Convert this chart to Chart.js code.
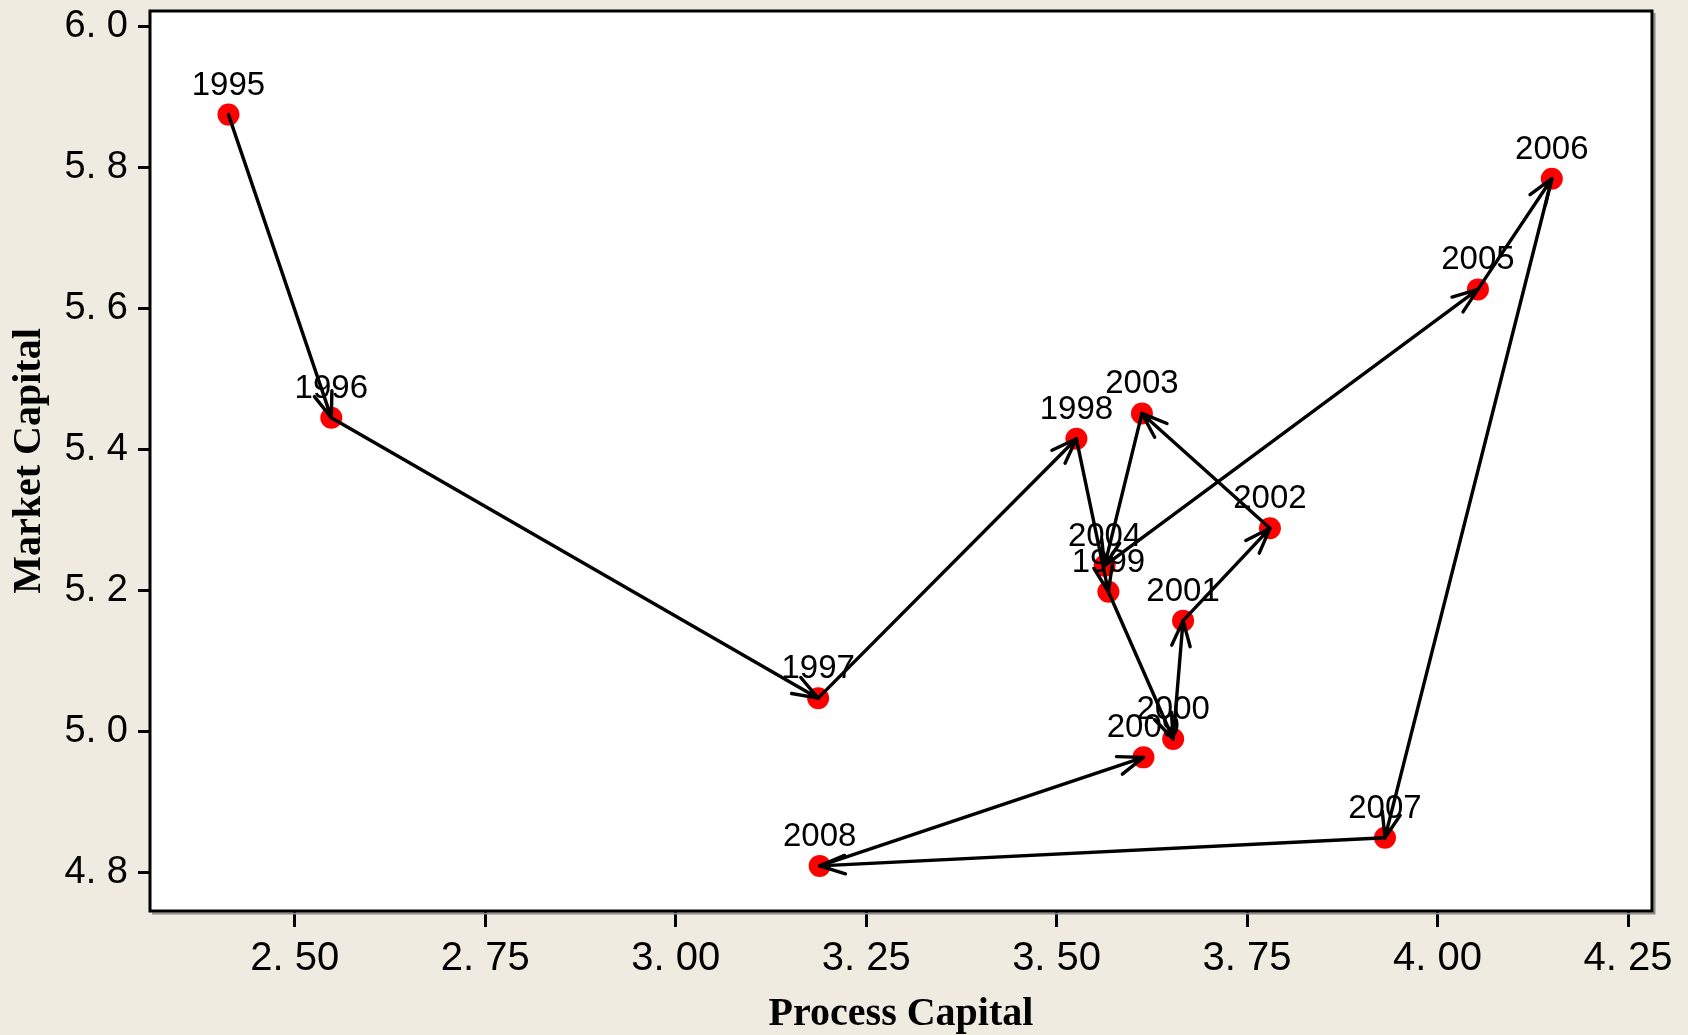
<!DOCTYPE html>
<html>
<head>
<meta charset="utf-8">
<script src="https://cdn.jsdelivr.net/npm/chart.js@4/dist/chart.umd.min.js"></script>
<style>
  html, body { margin: 0; padding: 0; background: #EFEBE1; }
  #wrap { width: 1688px; height: 1035px; }
</style>
</head>
<body>
<div id="wrap"><canvas id="c" width="1688" height="1035"></canvas></div>
<script>
// Yearly path of process capital vs. market capital
const years = ['1995', '1996', '1997', '1998', '1999', '2000', '2001', '2002',
               '2003', '2004', '2005', '2006', '2007', '2008', '2009'];
const processCapital = [2.413, 2.548, 3.187, 3.526, 3.568, 3.653, 3.666, 3.780,
                        3.612, 3.563, 4.053, 4.150, 3.931, 3.189, 3.614];
const marketCapital  = [5.875, 5.445, 5.047, 5.415, 5.198, 4.989, 5.157, 5.288,
                        5.451, 5.235, 5.627, 5.784, 4.849, 4.809, 4.963];
const xTicks = [2.50, 2.75, 3.00, 3.25, 3.50, 3.75, 4.00, 4.25];
const yTicks = [4.8, 5.0, 5.2, 5.4, 5.6, 5.8, 6.0];

const SANS = '"Liberation Sans", Arial, sans-serif';
const SERIF = '"Liberation Serif", "Times New Roman", serif';

// "2. 50" style tick text
function fmt(v, digits) {
  return v.toFixed(digits).replace('.', '. ');
}

// keep the plot frame where the layout padding puts it
function noLabelOverflow(s) {
  s.paddingTop = 0;
  s.paddingBottom = 0;
  s.paddingLeft = 0;
  s.paddingRight = 0;
}

const pathPlugin = {
  id: 'pathPlugin',
  beforeDraw(chart) {
    const { ctx, chartArea: a } = chart;
    ctx.save();
    ctx.fillStyle = '#EFEBE1';
    ctx.fillRect(0, 0, chart.width, chart.height);
    ctx.fillStyle = '#FFFFFF';
    ctx.fillRect(a.left, a.top, a.right - a.left, a.bottom - a.top);
    ctx.restore();
  },
  afterDatasetsDraw(chart) {
    const { ctx } = chart;
    const xs = chart.scales.x, ys = chart.scales.y;
    const px = processCapital.map(v => xs.getPixelForValue(v));
    const py = marketCapital.map(v => ys.getPixelForValue(v));
    ctx.save();
    // year labels
    ctx.fillStyle = '#000';
    ctx.font = '33px ' + SANS;
    ctx.textAlign = 'center';
    ctx.textBaseline = 'alphabetic';
    years.forEach((yr, i) => ctx.fillText(yr, px[i], py[i] - 20));
    // arrows between consecutive years
    ctx.strokeStyle = '#000';
    ctx.lineWidth = 3.4;
    ctx.lineCap = 'round';
    ctx.lineJoin = 'round';
    const head = 27, spread = 20 * Math.PI / 180;
    for (let i = 0; i < years.length - 1; i++) {
      const x0 = px[i], y0 = py[i], x1 = px[i + 1], y1 = py[i + 1];
      ctx.beginPath();
      ctx.moveTo(x0, y0);
      ctx.lineTo(x1, y1);
      ctx.stroke();
      const ang = Math.atan2(y1 - y0, x1 - x0);
      ctx.beginPath();
      ctx.moveTo(x1 - head * Math.cos(ang - spread), y1 - head * Math.sin(ang - spread));
      ctx.lineTo(x1, y1);
      ctx.lineTo(x1 - head * Math.cos(ang + spread), y1 - head * Math.sin(ang + spread));
      ctx.stroke();
    }
    ctx.restore();
  },
  afterDraw(chart) {
    const { ctx, chartArea: a } = chart;
    ctx.save();
    // light shadow on the right and bottom edges of the frame
    ctx.strokeStyle = '#8A8A8A';
    ctx.lineWidth = 2;
    ctx.beginPath();
    ctx.moveTo(a.right + 2.5, a.top + 2);
    ctx.lineTo(a.right + 2.5, a.bottom + 2.5);
    ctx.lineTo(a.left + 2, a.bottom + 2.5);
    ctx.stroke();
    ctx.strokeStyle = '#000';
    ctx.lineWidth = 3;
    ctx.strokeRect(a.left, a.top, a.right - a.left, a.bottom - a.top);
    ctx.restore();
  }
};

new Chart(document.getElementById('c'), {
  type: 'scatter',
  data: {
    labels: years,
    datasets: [{
      data: processCapital.map((x, i) => ({ x, y: marketCapital[i] })),
      pointRadius: 11,
      pointHoverRadius: 11,
      pointBackgroundColor: '#FF0000',
      pointBorderWidth: 0,
      showLine: false
    }]
  },
  options: {
    responsive: false,
    animation: false,
    devicePixelRatio: 1,
    layout: { padding: { top: 9, right: 36, left: 0, bottom: 0 } },
    plugins: { legend: { display: false }, tooltip: { enabled: false } },
    scales: {
      x: {
        type: 'linear',
        min: 2.31,
        max: 4.2815,
        afterBuildTicks(s) { s.ticks = xTicks.map(v => ({ value: v })); },
        afterFit(s) { s.height = 124; noLabelOverflow(s); },
        ticks: {
          callback: v => fmt(v, 2),
          color: '#000',
          font: { family: SANS, size: 40 },
          padding: 8,
          maxRotation: 0
        },
        grid: {
          drawOnChartArea: false,
          drawTicks: true,
          tickLength: 16,
          tickWidth: 3,
          tickColor: '#000'
        },
        border: { display: false },
        title: {
          display: true,
          text: 'Process Capital',
          color: '#000',
          font: { family: SERIF, size: 40, weight: 'bold', lineHeight: 1.0 },
          padding: { top: 0, bottom: 0 }
        }
      },
      y: {
        type: 'linear',
        min: 4.745,
        max: 6.022,
        afterBuildTicks(s) { s.ticks = yTicks.map(v => ({ value: v })); },
        afterFit(s) { s.width = 150; noLabelOverflow(s); },
        ticks: {
          callback: v => fmt(v, 1),
          color: '#000',
          font: { family: SANS, size: 38 },
          padding: 10
        },
        grid: {
          drawOnChartArea: false,
          drawTicks: true,
          tickLength: 12,
          tickWidth: 3,
          tickColor: '#000'
        },
        border: { display: false },
        title: {
          display: true,
          text: 'Market Capital',
          color: '#000',
          font: { family: SERIF, size: 40, weight: 'bold' },
          padding: { top: 6, bottom: 0 }
        }
      }
    }
  },
  plugins: [pathPlugin]
});
</script>
</body>
</html>
